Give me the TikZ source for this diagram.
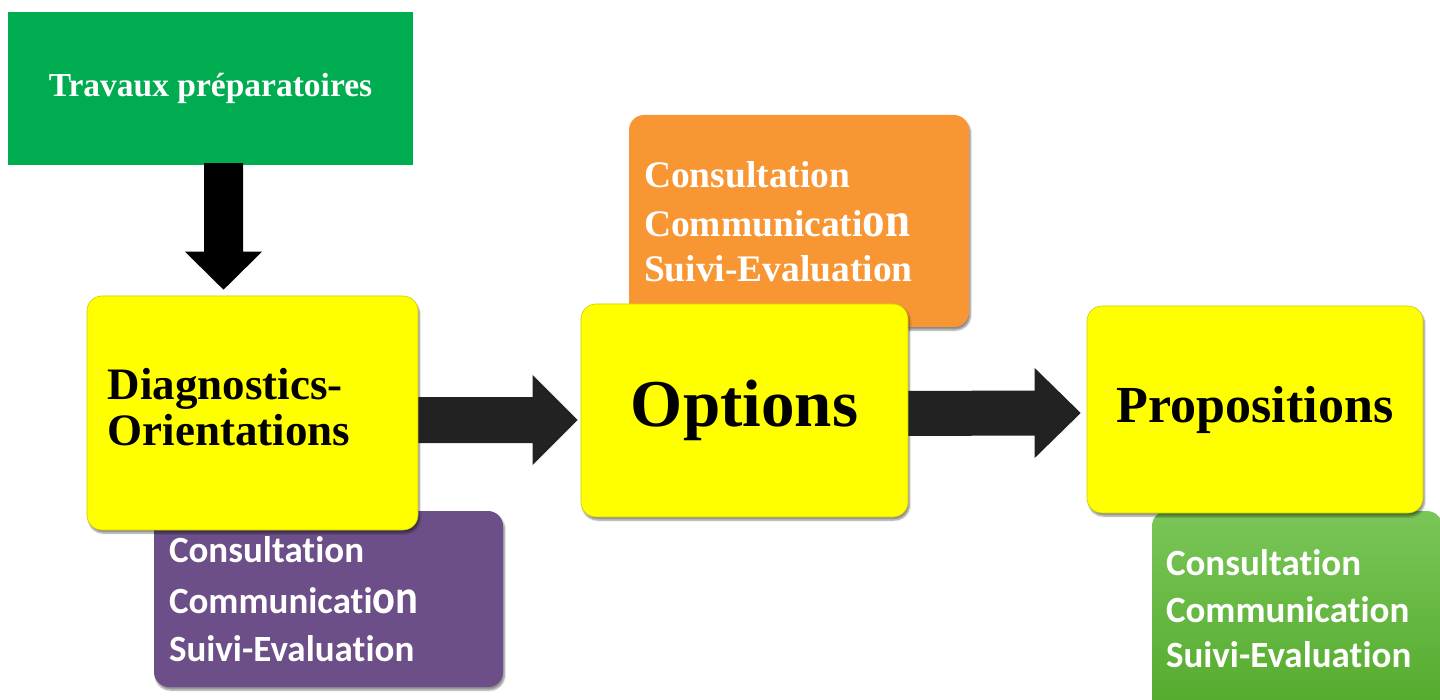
\documentclass[tikz,border=0pt]{standalone}
\usepackage{fontspec}
\usepackage{graphicx}
\usetikzlibrary{calc,shadows.blur}
\newfontfamily\tmsfont{Liberation Serif}
\newfontfamily\calfont{Carlito}[Ligatures=NoCommon]
\newcommand\firststrut{\rule{0pt}{34pt}}
\definecolor{grn}{RGB}{0,172,80}
\definecolor{ylw}{RGB}{255,255,0}
\definecolor{ylwedge}{RGB}{205,205,0}
\definecolor{prp}{RGB}{108,78,136}
\definecolor{org}{RGB}{248,150,52}
\definecolor{gtop}{RGB}{122,198,88}
\definecolor{gbot}{RGB}{78,166,38}
\definecolor{arr}{RGB}{34,34,34}
\tikzset{
  box/.style={rectangle, inner sep=0pt, rounded corners=15pt,
    blur shadow={shadow xshift=1.5pt, shadow yshift=-3pt, shadow blur steps=6, shadow opacity=45}},
  ybox/.style={box, fill=ylw, draw=ylwedge, line width=0.6pt, font=\tmsfont\bfseries},
  sidetxt/.style={anchor=north west, inner sep=0pt, align=left, text=white},
}
\begin{document}
\begin{tikzpicture}[x=1pt,y=-1pt]
\useasboundingbox (0,0) rectangle (1440,700);
% top green box
\node[fill=grn, minimum width=405pt, minimum height=153pt, inner sep=0pt, text=white,
  font=\tmsfont\bfseries\fontsize{33.5}{40}\selectfont] (tr) at (210.5,88.5) {Travaux préparatoires};
% side boxes (behind)
\node[box, fill=prp, minimum width=349pt, minimum height=176pt] (pu) at (328.5,599) {};
\node[box, fill=org, minimum width=340pt, minimum height=212pt] (or) at (799,221) {};
\node[box, top color=gtop, bottom color=gbot, minimum width=290pt, minimum height=229pt] (g2) at (1297,625.5) {};
% main yellow boxes
\node[ybox, minimum width=331pt, minimum height=234pt] (d) at (252.5,413) {};
\node[ybox, minimum width=327pt, minimum height=213pt, font=\tmsfont\bfseries\fontsize{67}{70}\selectfont] (o) at (744.5,410.5) {Options};
\node[ybox, minimum width=336pt, minimum height=207pt, font=\tmsfont\bfseries\fontsize{52}{56}\selectfont] (p) at (1255,409.5) {Propositions};
% texts
\node[sidetxt, text=black, font=\tmsfont\bfseries\fontsize{45}{46}\selectfont] (dt) at ($(d.north west)+(21,70)$)
  {\firststrut Diagnostics-\\Orientations};
\node[sidetxt, font=\calfont\bfseries\fontsize{37}{48}\selectfont] (put) at ($(pu.north west)+(15,17)$)
  {\firststrut Consultation\\[3pt]Communicati\scalebox{1.15}[1.3]{on}\\Suivi-Evaluation};
\node[sidetxt, font=\tmsfont\bfseries\fontsize{37.5}{45}\selectfont] (ort) at ($(or.north west)+(15,39)$)
  {\firststrut Consultation\\[4pt]Communicati\scalebox{1.2}[1.3]{on}\\Suivi-Evaluation};
\node[sidetxt, font=\calfont\bfseries\fontsize{37}{45}\selectfont] (g2t) at ($(g2.north west)+(14,30)$)
  {\firststrut Consultation\\[2pt]Communication\\Suivi-Evaluation};
% down arrow
\coordinate (dA) at ($(tr.south)+(13,-2)$);
\coordinate (dT) at ($(d.north)+(-29,-6)$);
\fill[black] ($(dA)+(-19.5,0)$) -- ($(dT)+(-19.5,-38)$) -- ($(dT)+(-38.5,-38)$) -- (dT)
  -- ($(dT)+(38.5,-38)$) -- ($(dT)+(19.5,-38)$) -- ($(dA)+(19.5,0)$) -- cycle;
% arrow 1
\coordinate (r1s) at ($(d.east)+(0,7)$);
\coordinate (r1t) at ($(o.west)+(-3,9.5)$);
\fill[arr] ($(r1s)+(0,-23)$) -- ($(r1t)+(-45,-23)$) -- ($(r1t)+(-45,-45)$) -- (r1t)
  -- ($(r1t)+(-45,45)$) -- ($(r1t)+(-45,23)$) -- ($(r1s)+(0,23)$) -- cycle;
% arrow 2
\coordinate (r2s) at ($(o.east)+(0,3)$);
\coordinate (r2t) at ($(p.west)+(-6,3.5)$);
\fill[arr] ($(r2s)+(0,-22.5)$) -- ($(r2t)+(-46,-22.5)$) -- ($(r2t)+(-46,-45)$) -- (r2t)
  -- ($(r2t)+(-46,45)$) -- ($(r2t)+(-46,22.5)$) -- ($(r2s)+(0,22.5)$) -- cycle;
\end{tikzpicture}
\end{document}
